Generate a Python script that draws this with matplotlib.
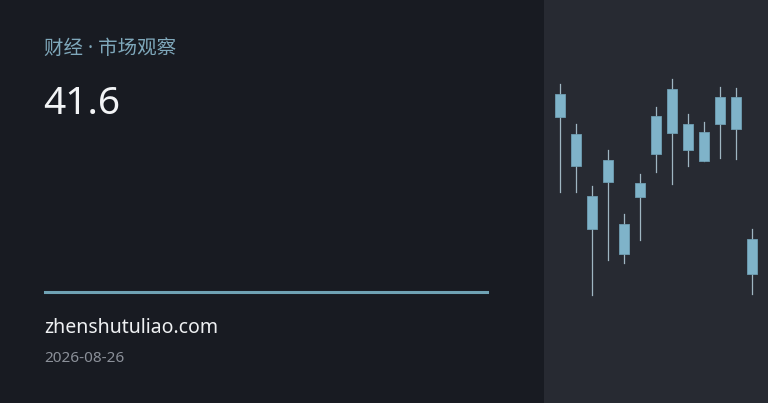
import numpy as np
import matplotlib
matplotlib.use('Agg')
from matplotlib import pyplot as plt
from matplotlib.patches import Rectangle

plt.rcParams['font.family'] = ['Noto Sans CJK SC', 'DejaVu Sans']

# candle data (13 sessions)
opens = [45.2, 37.3, 24.9, 27.7, 13.3, 24.7, 33.3, 37.5, 39.3, 37.7, 39.2, 44.5, 16.3]
closes = [40.7, 30.9, 18.3, 32.0, 19.2, 27.5, 40.8, 46.3, 34.1, 31.8, 44.7, 38.3, 9.3]
highs = [47.2, 39.2, 26.8, 34.0, 21.2, 29.3, 42.7, 48.3, 41.3, 39.7, 46.7, 46.5, 18.3]
lows = [25.7, 25.7, 5.0, 12.0, 11.5, 16.1, 29.7, 27.3, 30.9, 31.8, 32.5, 32.2, 5.3]

title = '财经 · 市场观察'
value_label = '41.6'
site = 'zhenshutuliao.com'
date = '2026-08-26'

W, H = 768, 403
fig = plt.figure(figsize=(W / 100, H / 100), dpi=100)
fig.patch.set_facecolor('#181b22')

# right panel with candles
ax = fig.add_axes([544 / W, 0, 224 / W, 1])
ax.set_facecolor('#272a32')
n = len(opens)
x = np.arange(n)
for i in range(n):
    lo, hi = min(opens[i], closes[i]), max(opens[i], closes[i])
    ax.plot([x[i], x[i]], [lows[i], highs[i]], color='#9fb6c2', linewidth=0.9, zorder=1)
    ax.add_patch(Rectangle((x[i] - 0.29, lo), 0.58, hi - lo, facecolor='#7fb3c9',
                           edgecolor='#6f9fb3', linewidth=0.6, zorder=2))
# candle centers at 560 + 16*i px inside a 224 px panel
ax.set_xlim(-1, 13)
ax.set_ylim(-16.6, 64)
ax.set_xticks([])
ax.set_yticks([])
for s in ax.spines.values():
    s.set_visible(False)

# left side texts
fig.text(44 / W, 1 - 49 / H, title, color='#7fa8bb', fontsize=14,
         family=['Noto Sans', 'Noto Sans CJK SC'], va='center', ha='left')
fig.text(43 / W, 1 - 104 / H, value_label, color='#f2f4f6', fontsize=28,
         family=['Noto Sans', 'DejaVu Sans'], va='center', ha='left')
fig.add_artist(plt.Line2D([45 / W, 487 / W], [1 - 292 / H, 1 - 292 / H],
                          color='#6fa2b4', linewidth=2.2))
fig.text(44 / W, 1 - 328 / H, site, color='#eef0f2', fontsize=14,
         family=['Noto Sans', 'DejaVu Sans'], va='center', ha='left')
fig.text(44 / W, 1 - 358 / H, date, color='#8b9099', fontsize=11,
         family=['Noto Sans', 'DejaVu Sans'], va='center', ha='left')

fig.savefig('out.png', dpi=100, facecolor=fig.get_facecolor())
